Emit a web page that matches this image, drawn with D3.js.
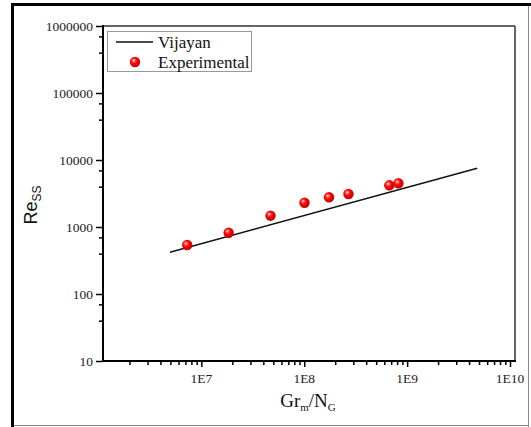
<!DOCTYPE html>
<html><head><meta charset="utf-8">
<script src="https://cdn.jsdelivr.net/npm/d3@7/dist/d3.min.js"></script>
<style>body{margin:0;background:#fff}svg{display:block}</style>
</head><body>
<script>
// Data
const expX = [7.28e6, 1.84e7, 4.70e7, 1.005e8, 1.74e8, 2.69e8, 6.71e8, 8.22e8];
const expY = [539, 822, 1475, 2305, 2775, 3108, 4190, 4490];
const vijX = [4.95e6, 4.8e9];
const vijY = [419, 7520];
const xTickVals = [1e7, 1e8, 1e9, 1e10];
const xTickLabels = ["1E7", "1E8", "1E9", "1E10"];
const yTickVals = [10, 100, 1000, 10000, 100000, 1000000];
const yTickLabels = ["10", "100", "1000", "10000", "100000", "1000000"];
const legendLabels = ["Vijayan", "Experimental"];

const W = 531, H = 427;
const L = 103, R = 515, T = 26, B = 361;
const svg = d3.select("body").append("svg").attr("width", W).attr("height", H);

// outer frame
svg.append("line").attr("x1",12.5).attr("x2",12.5).attr("y1",3).attr("y2",427).attr("stroke","#000").attr("stroke-width",3);
svg.append("line").attr("x1",11).attr("x2",531).attr("y1",4.5).attr("y2",4.5).attr("stroke","#000").attr("stroke-width",3);
svg.append("line").attr("x1",528.5).attr("x2",528.5).attr("y1",6).attr("y2",427).attr("stroke","#888").attr("stroke-width",1);
svg.append("line").attr("x1",14).attr("x2",529).attr("y1",425.5).attr("y2",425.5).attr("stroke","#888").attr("stroke-width",1);

const x = d3.scaleLog().domain([1.106e6, 1.118e10]).range([L, R]);
const y = d3.scaleLog().domain([10, 1e6]).range([B, T]);

const defs = svg.append("defs");
const grad = defs.append("radialGradient").attr("id","ball").attr("cx","40%").attr("cy","40%").attr("r","60%").attr("fx","38%").attr("fy","35%");
grad.append("stop").attr("offset","0%").attr("stop-color","#fff");
grad.append("stop").attr("offset","22%").attr("stop-color","#ff6060");
grad.append("stop").attr("offset","50%").attr("stop-color","#ff0000");
grad.append("stop").attr("offset","100%").attr("stop-color","#c00000");

// plot frame top/right
svg.append("line").attr("x1",L).attr("x2",R).attr("y1",T).attr("y2",T).attr("stroke","#333").attr("stroke-width",1.5);
svg.append("line").attr("x1",R).attr("x2",R).attr("y1",T).attr("y2",B).attr("stroke","#333").attr("stroke-width",1.5);

const serif = "Liberation Serif";

// x axis ticks
const xMinor = [];
for (let e = 6; e <= 9; e++) for (let m = 2; m <= 9; m++) { const v = m * Math.pow(10, e); if (v >= x.domain()[0] && v <= x.domain()[1]) xMinor.push(v); }
const xa = svg.append("g").attr("transform", `translate(0,${B})`);
xa.call(d3.axisBottom(x).tickValues(xMinor).tickSize(4).tickFormat(""));
xa.select(".domain").remove();
const xa2 = svg.append("g").attr("transform", `translate(0,${B})`);
xa2.call(d3.axisBottom(x).tickValues(xTickVals).tickSize(6).tickFormat(""));
xa2.select(".domain").remove();
svg.append("g").selectAll("text").data(xTickVals).join("text")
  .attr("x", d => x(d)).attr("y", B + 22).attr("text-anchor","middle")
  .style("font-family", serif).style("font-size","13.5px").attr("fill","#222")
  .text((d,i) => xTickLabels[i]);
svg.append("line").attr("x1",L-1).attr("x2",R+1).attr("y1",B).attr("y2",B).attr("stroke","#000").attr("stroke-width",2);

// y axis ticks
const yMinor = [];
for (let e = 1; e <= 5; e++) for (const m of [4,7]) yMinor.push(m * Math.pow(10, e));
const ya = svg.append("g").attr("transform", `translate(${L},0)`);
ya.call(d3.axisLeft(y).tickValues(yMinor).tickSize(4).tickFormat(""));
ya.select(".domain").remove();
const ya2 = svg.append("g").attr("transform", `translate(${L},0)`);
ya2.call(d3.axisLeft(y).tickValues(yTickVals).tickSize(7).tickFormat(""));
ya2.select(".domain").remove();
svg.append("g").selectAll("text").data(yTickVals).join("text")
  .attr("x", L - 10).attr("y", d => y(d) + 4.5).attr("text-anchor","end")
  .style("font-family", serif).style("font-size","13.5px").attr("fill","#222")
  .text((d,i) => yTickLabels[i]);
svg.selectAll(".tick line").attr("stroke","#000").attr("stroke-width",1.5);
svg.append("line").attr("x1",L).attr("x2",L).attr("y1",T-1).attr("y2",B+1).attr("stroke","#000").attr("stroke-width",2);

// Vijayan line
const line = d3.line().x(d=>x(d[0])).y(d=>y(d[1]));
svg.append("path").datum(vijX.map((v,i)=>[v, vijY[i]])).attr("d", line).attr("fill","none").attr("stroke","#111").attr("stroke-width",1.5);

// Experimental points
svg.append("g").selectAll("circle").data(expX.map((v,i)=>[v, expY[i]])).join("circle")
  .attr("cx", d=>x(d[0])).attr("cy", d=>y(d[1])).attr("r",5.2).attr("fill","url(#ball)");

// Legend
svg.append("rect").attr("x",107.5).attr("y",31.5).attr("width",144).attr("height",40).attr("fill","#fff").attr("stroke","#999").attr("stroke-width",1);
svg.append("line").attr("x1",116).attr("x2",153).attr("y1",42).attr("y2",42).attr("stroke","#111").attr("stroke-width",1.5);
svg.append("circle").attr("cx",135).attr("cy",62).attr("r",5.2).attr("fill","url(#ball)");
svg.append("text").attr("x",158).attr("y",48).style("font-family",serif).style("font-size","17px").attr("fill","#111").text(legendLabels[0]);
svg.append("text").attr("x",158).attr("y",68).style("font-family",serif).style("font-size","17px").attr("fill","#111").text(legendLabels[1]);

// Y axis title
const yt = svg.append("text").attr("transform","translate(37,205) rotate(-90)").attr("text-anchor","middle")
  .style("font-family","Liberation Sans").style("font-size","18px").attr("fill","#111");
yt.append("tspan").text("Re");
yt.append("tspan").style("font-size","12px").attr("dy",4).text("SS");

// X axis title
const xt = svg.append("text").attr("x",308).attr("y",407).attr("text-anchor","middle")
  .style("font-family",serif).style("font-size","19px").attr("fill","#111");
xt.append("tspan").text("Gr");
xt.append("tspan").style("font-size","11px").attr("dy",4).text("m");
xt.append("tspan").attr("dy",-4).text("/N");
xt.append("tspan").style("font-size","11px").attr("dy",4).text("G");
</script>
</body></html>
